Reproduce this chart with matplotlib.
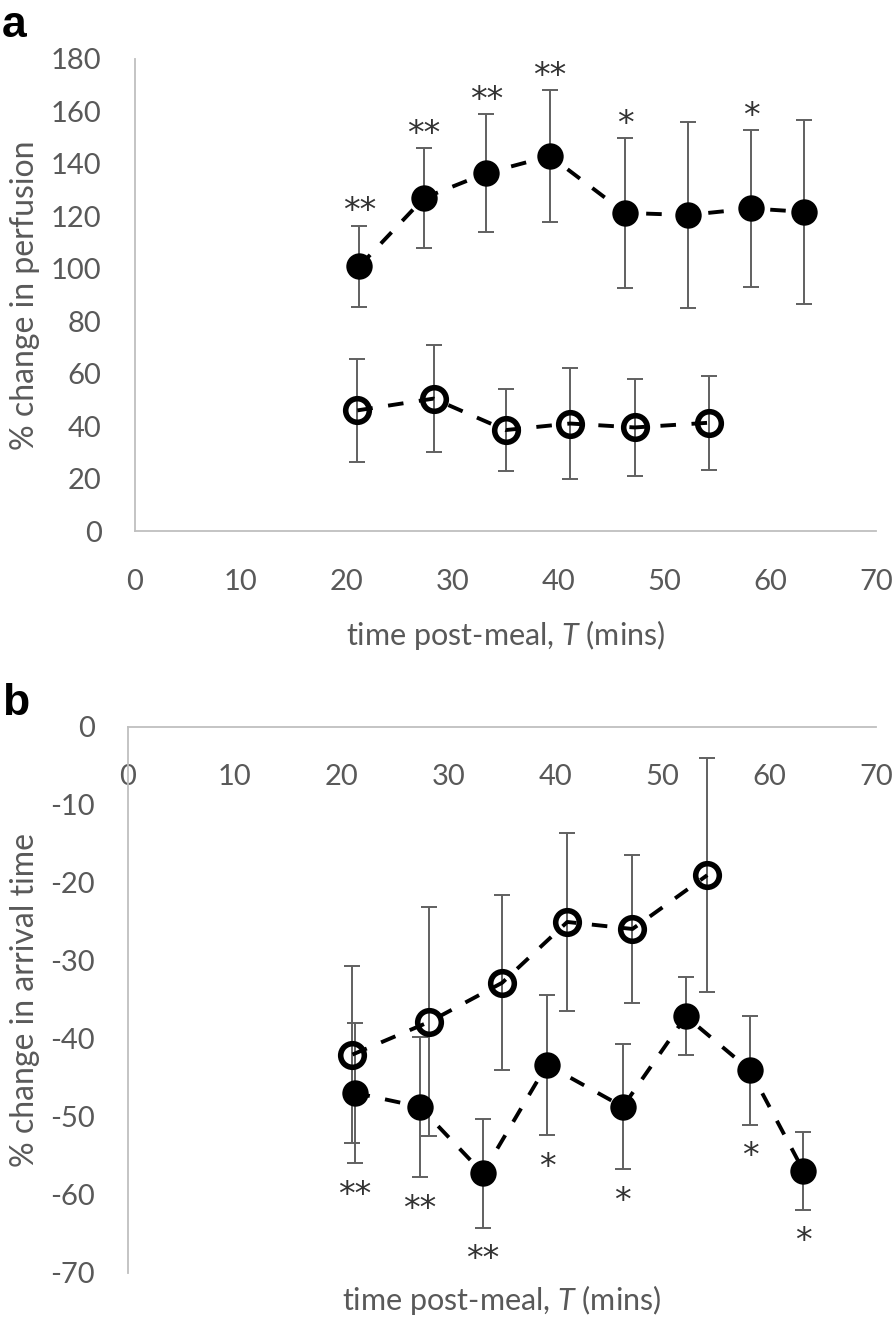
import numpy as np
import matplotlib
matplotlib.use('Agg')
import matplotlib.pyplot as plt

plt.rcParams['font.family'] = ['Lato', 'DejaVu Sans']
plt.rcParams['mathtext.fontset'] = 'custom'
plt.rcParams['mathtext.it'] = 'Lato:italic'
plt.rcParams['mathtext.rm'] = 'Lato'
plt.rcParams['axes.unicode_minus'] = False

# Zeitpunkte (min)
t_filled = [21.2, 27.3, 33.2, 39.2, 46.3, 52.2, 58.2, 63.2]
t_open = [21.0, 28.2, 35.0, 41.1, 47.2, 54.2]

# a: Perfusion
perf_filled = [101, 127, 136.5, 143, 121.3, 120.5, 123, 121.7]
perf_filled_err = [15.5, 19, 22.5, 25, 28.5, 35.5, 30, 35]
perf_open = [46, 50.5, 38.5, 41, 39.5, 41.3]
perf_open_err = [19.5, 20.5, 15.5, 21, 18.5, 18]
perf_stars = ['**', '**', '**', '**', '*', '', '*', '']

# b: Ankunftszeit
arr_filled = [-46.9, -48.7, -57.2, -43.3, -48.7, -37.1, -44.0, -56.9]
arr_filled_err = [9, 9, 7, 9, 8, 5, 7, 5]
arr_open = [-42.0, -37.8, -32.8, -25.0, -25.9, -19.0]
arr_open_err = [11.4, 14.7, 11.2, 11.4, 9.5, 15]
arr_stars = ['**', '**', '**', '*', '*', '', '*', '*']

x_ticks = [0, 10, 20, 30, 40, 50, 60, 70]
perf_ticks = [0, 20, 40, 60, 80, 100, 120, 140, 160, 180]
arr_ticks = [0, -10, -20, -30, -40, -50, -60, -70]

grey_txt = '#595959'
grey_axis = '#bfbfbf'
fs = 21


def draw_series(ax, x, y, err, filled):
    ax.errorbar(x, y, yerr=err, fmt='none', ecolor='#606060', elinewidth=1.4,
                capsize=6, capthick=1.4, zorder=2)
    ax.plot(x, y, linestyle=(0, (4, 4)), color='black', linewidth=2.8, zorder=3,
            marker='o', markersize=19 if filled else 17,
            markerfacecolor='black' if filled else 'none',
            markeredgecolor='black', markeredgewidth=0 if filled else 4)


def style_axes(ax):
    for s in ['top', 'right']:
        ax.spines[s].set_visible(False)
    ax.spines['left'].set_color(grey_axis)
    ax.spines['bottom'].set_color(grey_axis)
    ax.spines['left'].set_linewidth(1.3)
    ax.spines['bottom'].set_linewidth(1.3)
    ax.tick_params(axis='both', length=0, labelsize=fs, colors=grey_txt)
    ax.tick_params(axis='x', pad=27)
    ax.tick_params(axis='y', pad=24)


fig = plt.figure(figsize=(8.94, 13.22), dpi=100)

# --- a ---
ax1 = fig.add_axes([0.151, 0.5983, 0.829, 0.3571])
draw_series(ax1, t_filled, perf_filled, perf_filled_err, True)
draw_series(ax1, t_open, perf_open, perf_open_err, False)
for x, y, e, s in zip(t_filled, perf_filled, perf_filled_err, perf_stars):
    if s:
        ax1.annotate(s, xy=(x, y + e), xytext=(0, 3), textcoords='offset points',
                     ha='center', va='baseline', fontsize=24, color='#333333',
                     family='DejaVu Sans')
ax1.set_xlim(0, 70)
ax1.set_ylim(0, 180)
ax1.set_xticks(x_ticks)
ax1.set_yticks(perf_ticks)
style_axes(ax1)
ax1.set_ylabel('% change in perfusion', fontsize=23, color=grey_txt)
ax1.yaxis.set_label_coords(-0.128, 0.5)
ax1.set_xlabel('time post-meal, $\\mathit{T}$ (mins)', fontsize=22, color=grey_txt)
ax1.xaxis.set_label_coords(0.5, -0.185)

# --- b ---
ax2 = fig.add_axes([0.1432, 0.0371, 0.8368, 0.413])
draw_series(ax2, t_open, arr_open, arr_open_err, False)
draw_series(ax2, t_filled, arr_filled, arr_filled_err, True)
for x, y, e, s in zip(t_filled, arr_filled, arr_filled_err, arr_stars):
    if s:
        ax2.annotate(s, xy=(x, y - e), xytext=(0, -30), textcoords='offset points',
                     ha='center', va='baseline', fontsize=24, color='#333333',
                     family='DejaVu Sans')
ax2.set_xlim(0, 70)
ax2.set_ylim(-70, 0)
ax2.set_xticks(x_ticks)
ax2.set_yticks(arr_ticks)
style_axes(ax2)
ax2.spines['bottom'].set_position(('data', 0))
ax2.set_ylabel('% change in arrival time', fontsize=23, color=grey_txt)
ax2.yaxis.set_label_coords(-0.118, 0.5)
ax2.set_xlabel('time post-meal, $\\mathit{T}$ (mins)', fontsize=22, color=grey_txt)
ax2.xaxis.set_label_coords(0.5, -0.018)

fig.text(0.002, 0.9965, 'a', fontsize=32, fontweight='bold', family='Liberation Sans',
         ha='left', va='top')
fig.text(0.002, 0.483, 'b', fontsize=32, fontweight='bold', family='Liberation Sans',
         ha='left', va='top')

fig.savefig('out.png', dpi=100)
